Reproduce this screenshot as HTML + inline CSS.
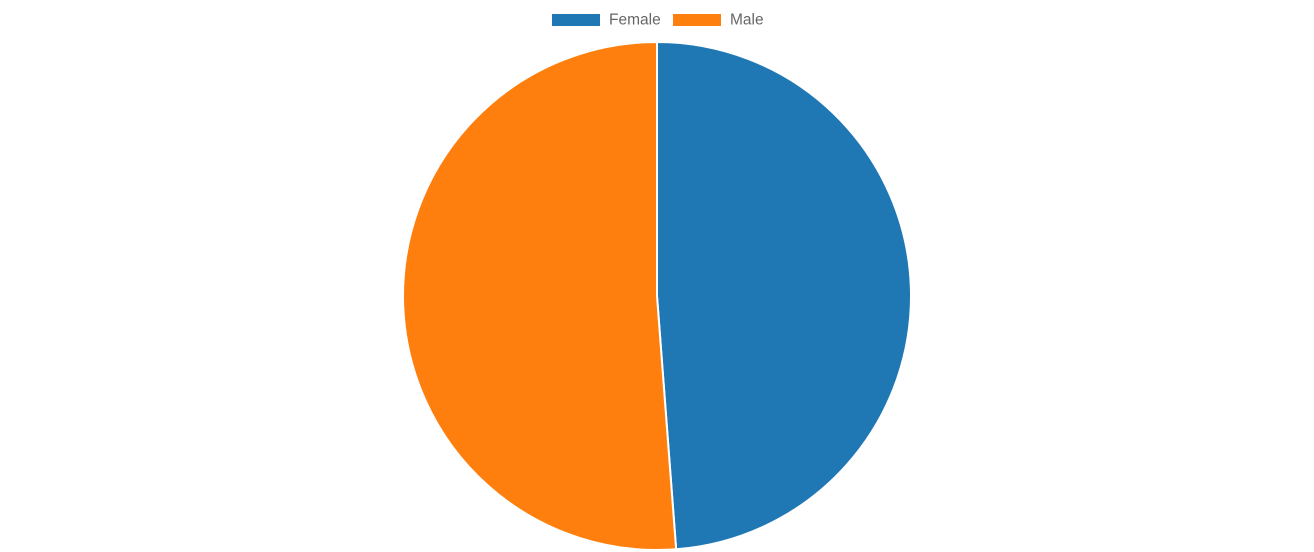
<!DOCTYPE html>
<html><head><meta charset="utf-8"><style>
html,body{margin:0;padding:0;background:#fff;width:1314px;height:552px;overflow:hidden}
</style></head><body>
<svg id="chart" width="1314" height="552" xmlns="http://www.w3.org/2000/svg"></svg>
<script>
const labels = ["Female", "Male"];
const values = [48.8, 51.2];
const colors = ["#1f77b4", "#ff7f0e"];

const svg = document.getElementById('chart');
const NS = "http://www.w3.org/2000/svg";
const cx = 657, cy = 296, r = 254;
const total = values.reduce((a,b)=>a+b,0);
let start = -Math.PI/2;
values.forEach((v,i)=>{
  const ang = v/total*2*Math.PI;
  const end = start+ang;
  const x1=cx+r*Math.cos(start), y1=cy+r*Math.sin(start);
  const x2=cx+r*Math.cos(end), y2=cy+r*Math.sin(end);
  const p=document.createElementNS(NS,'path');
  p.setAttribute('d',`M${cx},${cy} L${x1},${y1} A${r},${r} 0 ${ang>Math.PI?1:0} 1 ${x2},${y2} Z`);
  p.setAttribute('fill',colors[i]);
  p.setAttribute('stroke','#fff');
  p.setAttribute('stroke-width','2');
  
  
  svg.appendChild(p);
  start=end;
});
const legendX=[552,673];
labels.forEach((l,i)=>{
  const g=document.createElementNS(NS,'g');
  
  
  const rc=document.createElementNS(NS,'rect');
  rc.setAttribute('x',legendX[i]);rc.setAttribute('y',14);
  rc.setAttribute('width',48);rc.setAttribute('height',12);
  rc.setAttribute('fill',colors[i]);
  
  
  const t=document.createElementNS(NS,'text');
  t.setAttribute('x',legendX[i]+57);t.setAttribute('y',24.5);
  t.setAttribute('font-family','"Liberation Sans", sans-serif');
  t.setAttribute('font-size','15.5');t.setAttribute('fill','#666');
  t.textContent=l;
  
  
  g.appendChild(rc);g.appendChild(t);svg.appendChild(g);
});
</script>
</body></html>
